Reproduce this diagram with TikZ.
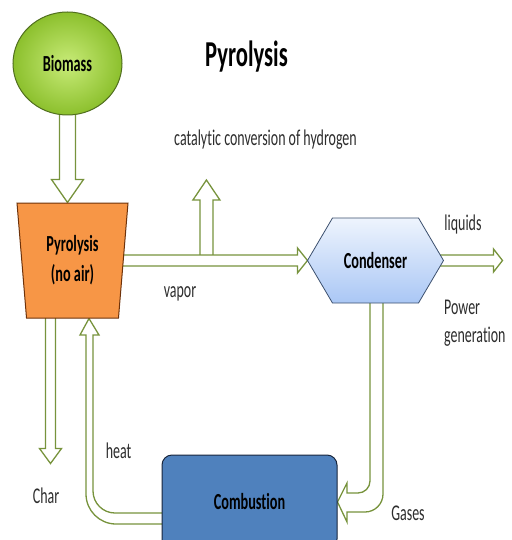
\documentclass[tikz,border=0pt]{standalone}
\usepackage{fontspec}
\setmainfont{Carlito}[Ligatures=NoCommon]
\usetikzlibrary{shapes.geometric,calc,backgrounds}
\definecolor{flowgreen}{RGB}{119,147,60}
\definecolor{biolight}{RGB}{200,235,120}
\definecolor{biodark}{RGB}{140,192,45}
\definecolor{bioedge}{RGB}{80,110,30}
\definecolor{pyroorange}{RGB}{247,150,70}
\definecolor{pyroedge}{RGB}{110,50,10}
\definecolor{condtop}{RGB}{238,244,253}
\definecolor{condbot}{RGB}{170,199,245}
\definecolor{condedge}{RGB}{60,80,110}
\definecolor{combblue}{RGB}{79,129,189}
\definecolor{combedge}{RGB}{25,38,60}
\definecolor{txtgray}{RGB}{45,45,45}
\newcommand{\nar}[1]{\scalebox{0.62}[1]{#1}}
% hollow block arrow: from, to, half shaft, half head, head length
\newcommand{\blockarrow}[5]{%
  \path ($(#2)!#5!(#1)$) coordinate (ba);
  \draw[flow] ($(#1)!#3!90:(#2)$) -- ($(ba)!#3!90:(#2)$) -- ($(ba)!#4!90:(#2)$) -- (#2)
    -- ($(ba)!#4!-90:(#2)$) -- ($(ba)!#3!-90:(#2)$) -- ($(#1)!#3!-90:(#2)$) -- cycle;}
\tikzset{
  flow/.style={draw=flowgreen,line width=1.3pt,fill=white,line join=miter},
  unit/.style={font=\fontsize{23}{30}\selectfont\bfseries,align=center,line width=1pt},
  lbl/.style={font=\fontsize{22.5}{28}\selectfont,text=txtgray,inner sep=0pt},
}
\begin{document}
\begin{tikzpicture}[x=1pt,y=-1pt]
  \useasboundingbox (0,0) rectangle (511,540);
  % units
  \node[unit,ellipse,minimum width=109pt,minimum height=103pt,inner color=biolight,outer color=biodark,draw=bioedge] (bio) at (67.5,63.5) {\nar{Biomass}};
  \node[unit,trapezium,trapezium angle=80.4,shape border rotate=180,trapezium stretches body,minimum width=111pt,minimum height=115pt,fill=pyroorange,draw=pyroedge] (pyro) at (72.5,260.5) {\nar{Pyrolysis}\\\nar{(no air)}};
  \node[unit,minimum width=135pt,minimum height=84pt] (cond) at (375.5,260.5) {\nar{Condenser}};
  \node[unit,rounded corners=10pt,minimum width=175pt,minimum height=94pt,fill=combblue,draw=combedge] (comb) at (249.5,502) {\nar{Combustion}};
  % labels
  \node[anchor=base,inner sep=0pt,font=\fontsize{36.5}{44}\selectfont\bfseries] (title) at (246.5,67) {\nar{Pyrolysis}};
  \node[lbl,anchor=base] (cat) at (265.5,146) {\nar{catalytic conversion of hydrogen}};
  \node[lbl,anchor=base] (vapor) at (180,297) {\nar{vapor}};
  \node[lbl,anchor=base] (liq) at (463,230) {\nar{liquids}};
  \node[lbl,anchor=west,align=left] (power) at (444,323) {\nar{Power}\\\nar{generation}};
  \node[lbl,anchor=base] (heat) at (118.5,458) {\nar{heat}};
  \node[lbl,anchor=base] (char) at (46,503) {\nar{Char}};
  \node[lbl,anchor=base] (gases) at (408,520) {\nar{Gases}};
  \coordinate (biotip) at (bio.south |- pyro.north);
  \coordinate (branch) at ($(pyro.east)!0.45!(cond.west)$);
  \coordinate (branchtip) at ($(branch)+(0,-80.5)$);
  \coordinate (liqtip) at ([xshift=59pt]cond.east);
  \coordinate (charstart) at ([xshift=-22pt]pyro.center);
  \coordinate (chartip) at ([xshift=-22pt,yshift=-145pt]pyro.south);
  \coordinate (heattip) at ([xshift=16.5pt]pyro.south);
  \begin{scope}[on background layer]
    \blockarrow{bio.center}{biotip}{8pt}{16pt}{23pt}
    \blockarrow{branch}{branchtip}{6.5pt}{13.5pt}{20pt}
    \blockarrow{pyro.center}{cond.west}{5.5pt}{12.5pt}{10pt}
    \blockarrow{cond.center}{liqtip}{5.5pt}{11.5pt}{9pt}
    \blockarrow{charstart}{chartip}{5pt}{11pt}{15pt}
    % heat back to the reactor
    \draw[flow] ([yshift=-22pt]comb.center) -- (116,524) arc[start angle=90,end angle=180,radius=30]
      -- (86,335) -- (80,335) -- (heattip) -- (99,335) -- (93,335) -- (93,491)
      arc[start angle=180,end angle=90,radius=22] -- ([yshift=-11pt]comb.center) -- cycle;
    % gases to combustion
    \draw[flow] ([xshift=-5.5pt]cond.center) -- (370,481) arc[start angle=0,end angle=90,radius=12]
      -- (347,493) -- (347,483) -- (comb.east) -- (347,522) -- (347,512) -- (365,512)
      arc[start angle=90,end angle=0,radius=18] -- ([xshift=7.5pt]cond.center) -- cycle;
    \path[top color=condtop,bottom color=condbot,draw=condedge,line width=0.8pt] (cond.west)
      -- ([xshift=25pt]cond.north west) -- ([xshift=-25pt]cond.north east) -- (cond.east)
      -- ([xshift=-25pt]cond.south east) -- ([xshift=25pt]cond.south west) -- cycle;
  \end{scope}
\end{tikzpicture}
\end{document}
